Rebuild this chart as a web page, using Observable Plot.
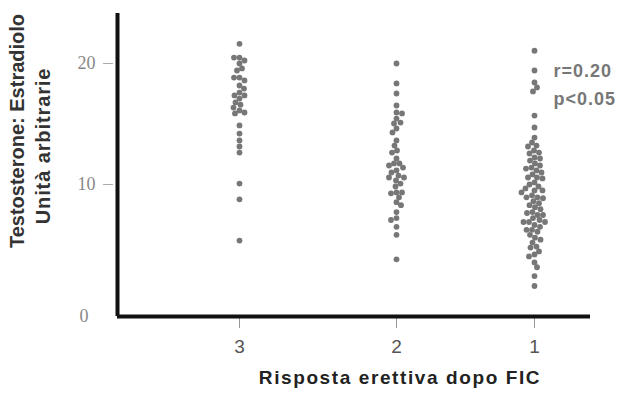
<!DOCTYPE html>
<html>
<head>
<meta charset="utf-8">
<script src="https://cdn.jsdelivr.net/npm/d3@7"></script>
<script src="https://cdn.jsdelivr.net/npm/@observablehq/plot@0.6"></script>
<style>
  body { margin: 0; background: #fff; }
  svg { display: block; background: #fff; }
</style>
</head>
<body>
<div id="chart"></div>
<script>
// Categories (erectile response after FIC) and tick labels
const groups = [3, 2, 1];
const yTicks = [10, 20];
const yTitle1 = "Testosterone: Estradiolo";
const yTitle2 = "Unità arbitrarie";
const xTitle = "Risposta erettiva dopo FIC";
const annotation = "r=0.20\np<0.05";

// Testosterone:Estradiol ratio values per group
const values3 = [21.65, 20.5, 20.5, 20.25, 20.0, 19.59, 19.42, 18.84, 18.84, 18.6, 18.18, 17.93, 17.6,
  17.36, 17.36, 17.1, 16.78, 16.6, 16.36, 16.12, 15.95, 15.87, 14.88, 14.21, 13.64, 13.14, 12.64,
  10.08, 8.88, 5.75];
const values2 = [20.0, 18.35, 17.52, 16.53, 15.95, 15.87, 15.45, 15.12, 15.04, 14.63, 14.3, 13.64,
  13.22, 12.81, 12.64, 12.15, 11.74, 11.74, 11.57, 11.4, 11.16, 10.99, 10.74, 10.58, 10.58, 10.33,
  10.08, 9.85, 9.4, 9.4, 9.33, 9.03, 8.66, 8.43, 7.91, 7.46, 7.31, 6.79, 6.19, 4.33];
const values1 = [21.07, 19.42, 18.43, 18.02, 17.69, 15.7, 14.71, 13.88, 13.47, 13.22, 13.14, 12.81,
  12.64, 12.56, 12.23, 12.15, 11.98, 11.74, 11.57, 11.4, 11.32, 11.16, 10.99, 10.83, 10.58, 10.58,
  10.5, 10.17, 10.0, 9.85, 9.7, 9.55, 9.55, 9.4, 9.18, 9.03, 9.03, 8.96, 8.73, 8.58, 8.43, 8.28,
  8.13, 7.91, 7.84, 7.69, 7.69, 7.46, 7.31, 7.16, 7.16, 7.16, 6.94, 6.79, 6.57, 6.57, 6.42, 6.19,
  5.97, 5.82, 5.6, 5.3, 5.22, 4.93, 4.7, 4.55, 4.1, 3.73, 3.06, 2.31];

// Scales (piecewise, as in the original figure)
const xScaleOpts = {type: "linear", domain: [4, 3, 2, 1, 0], range: [117, 239, 396, 534, 590]};
const yScaleOpts = {type: "linear", domain: [0, 10, 20, 24.2], range: [316, 184, 63, 13]};
const xs = Plot.scale({x: xScaleOpts});
const ys = Plot.scale({y: yScaleOpts});

// simple beeswarm layout computed through the scales
function swarm(group, vals, D) {
  const placed = [];
  const gx = xs.apply(group);
  return vals.map((v, i) => {
    const py = ys.apply(v);
    let best = 0;
    for (let k = 0; k < 80; k++) {
      const s = k * 0.5;
      const cands = k === 0 ? [0] : (i % 2 ? [s, -s] : [-s, s]);
      let found = null;
      for (const o of cands) {
        if (placed.every(p => (p.o - o) ** 2 + (p.py - py) ** 2 >= D * D)) { found = o; break; }
      }
      if (found !== null) { best = found; break; }
    }
    placed.push({o: best, py});
    return {group, value: v, x: xs.invert(gx + best)};
  });
}

const rows = [
  ...swarm(3, values3, 5.4),
  ...swarm(2, values2, 5.4),
  ...swarm(1, values1, 5.4)
];

const sans = "'Liberation Sans', Arial, sans-serif";
const serif = "'Liberation Serif', 'Times New Roman', serif";

const chart = Plot.plot({
  width: 624,
  height: 395,
  marginLeft: 117,
  marginRight: 34,
  marginTop: 13,
  marginBottom: 79,
  x: xScaleOpts,
  y: yScaleOpts,
  style: {background: "#fff", overflow: "visible"},
  marks: [
    Plot.axisY({ticks: yTicks, tickSize: 10, tickPadding: 8, dx: -4, stroke: "#aaa",
      fill: "#888", fontSize: 18, fontFamily: serif, label: null}),
    Plot.axisY({ticks: [0], tickSize: 0, tickPadding: 29, fill: "#888",
      fontSize: 18, fontFamily: serif, label: null}),
    Plot.axisX({ticks: groups, tickSize: 12, tickPadding: 11, stroke: "#999", fill: "#555",
      fontSize: 19, fontFamily: sans, tickFormat: d => String(d), label: null}),
    Plot.ruleX([4], {stroke: "#111", strokeWidth: 4}),
    Plot.ruleY([0], {stroke: "#111", strokeWidth: 4}),
    Plot.dot(rows, {x: "x", y: "value", r: 2.9, fill: "#777", stroke: "none"}),
    Plot.text([annotation], {frameAnchor: "top-right", textAnchor: "start", lineAnchor: "middle",
      dx: -37, dy: 69, lineHeight: 1.55, fill: "#777", fontSize: 18, fontWeight: "bold",
      fontFamily: sans}),
    Plot.text([xTitle], {frameAnchor: "bottom", dx: 46, dy: 67, fill: "#222", fontSize: 19,
      fontWeight: "bold", fontFamily: sans}),
    Plot.text([yTitle1], {frameAnchor: "left", textAnchor: "middle", rotate: -90, dx: -100, dy: -34,
      fill: "#333", fontSize: 20, fontWeight: "bold", fontFamily: sans}),
    Plot.text([yTitle2], {frameAnchor: "left", textAnchor: "middle", rotate: -90, dx: -74, dy: -19,
      fill: "#333", fontSize: 20, fontWeight: "bold", fontFamily: sans})
  ]
});
d3.select(chart).selectAll("text").filter(function() { return this.textContent === xTitle; })
  .attr("letter-spacing", "1.6px");
d3.select(chart).selectAll("text").filter(function() { return this.textContent === yTitle2; })
  .attr("letter-spacing", "0.9px");
d3.select(chart).selectAll("text").filter(function() { return this.textContent.startsWith("r=") || this.textContent.startsWith("p<"); })
  .attr("letter-spacing", "1px");
document.getElementById("chart").append(chart);
</script>
</body>
</html>
